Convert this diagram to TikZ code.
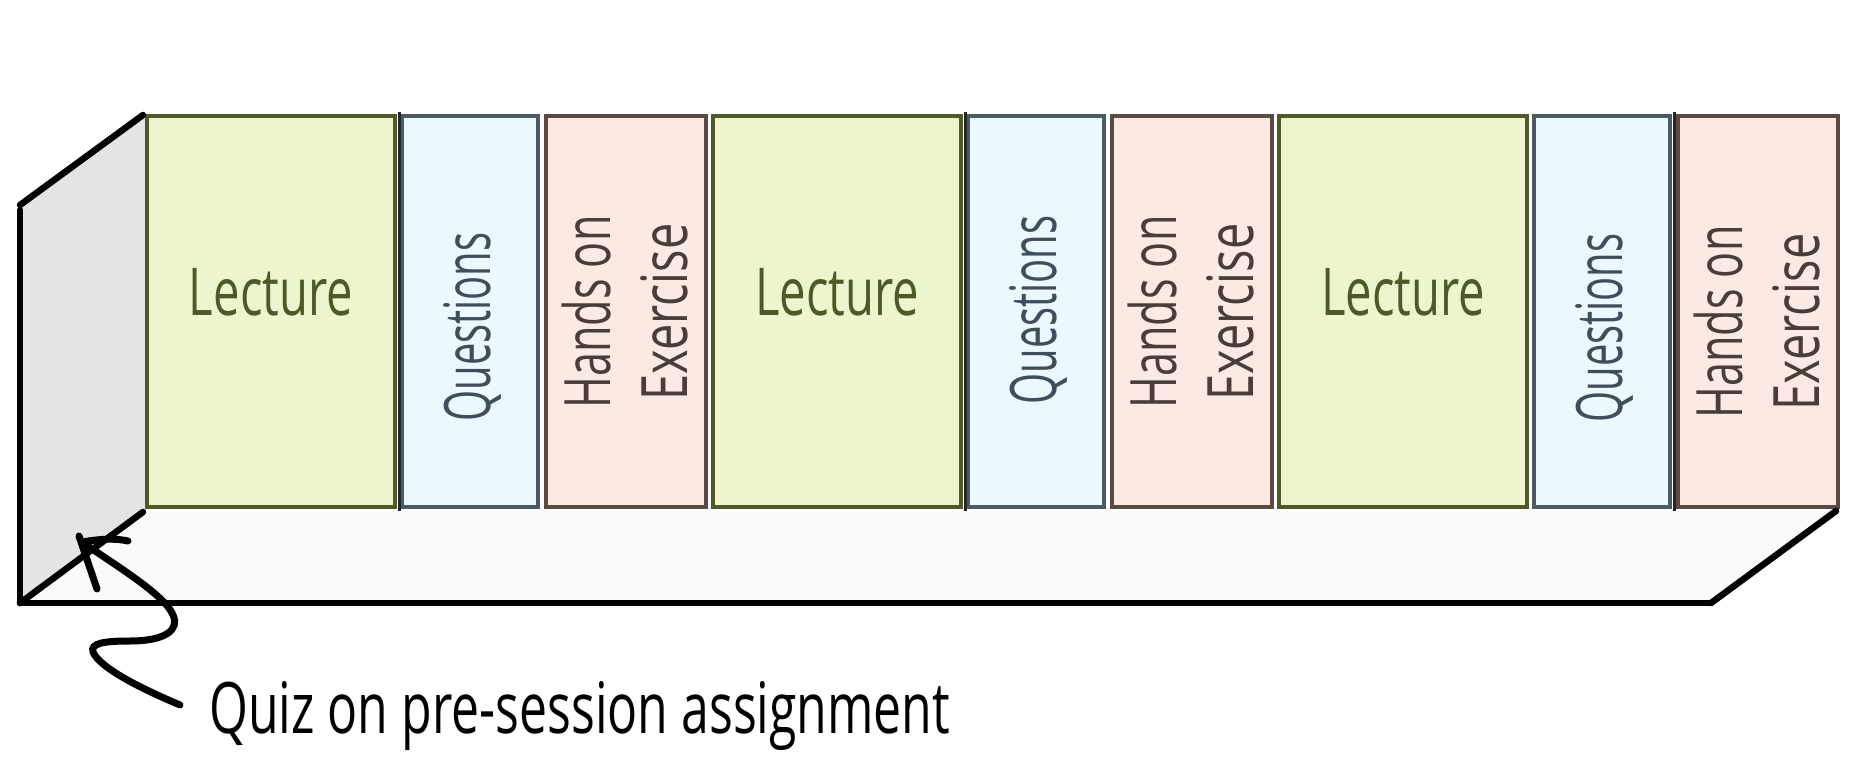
\documentclass[tikz,border=0pt]{standalone}
\usepackage{fontspec}
\setmainfont{Open Sans}
\usepackage{graphicx}
\definecolor{lecfill}{HTML}{EDF5CF}
\definecolor{lecdraw}{HTML}{4F5A2B}
\definecolor{lectext}{HTML}{4B5A26}
\definecolor{qfill}{HTML}{EBF8FE}
\definecolor{qdraw}{HTML}{4B5B66}
\definecolor{qtext}{HTML}{3D4F5C}
\definecolor{hfill}{HTML}{FBEAE4}
\definecolor{hdraw}{HTML}{5A4A43}
\definecolor{htext}{HTML}{4A3C36}
\definecolor{wallfill}{HTML}{E4E4E4}
\definecolor{floorfill}{HTML}{FAFAFA}
\newcommand{\fitw}[2]{\resizebox{#1pt}{\height}{#2}}
\tikzset{
  boxbase/.style={rectangle, line width=4pt, inner sep=0pt, minimum height=391pt},
  lecbox/.style={boxbase, fill=lecfill, draw=lecdraw, minimum width=248pt},
  qbox/.style={boxbase, fill=qfill, draw=qdraw, minimum width=136pt},
  hbox/.style={boxbase, fill=hfill, draw=hdraw, minimum width=160pt},
  boxfont/.style={font=\fontsize{64}{64}\selectfont, inner sep=0pt, anchor=base},
  lectxt/.style={boxfont, text=lectext, font=\fontsize{66}{66}\selectfont},
  qtxt/.style={boxfont, text=qtext, rotate=90},
  htxt/.style={boxfont, text=htext, rotate=90},
  edge/.style={line width=6.5pt, black, line cap=round},
  sep/.style={line width=3pt, black!85},
  arrowline/.style={line width=7pt, black, line cap=round},
}
\begin{document}
\begin{tikzpicture}[x=1pt,y=-1pt]
\useasboundingbox[fill=white] (0,0) rectangle (1869,762);
% wall and floor fills
\fill[wallfill] (20,205) -- (145,114) -- (145,510) -- (20,603) -- cycle;
\fill[floorfill] (20,603) -- (145,511) -- (1839,511) -- (1711,603) -- cycle;
% boxes
\foreach \i/\s in {1/145, 2/711, 3/1277} {
  \node[lecbox] (L\i) at (\s+126, 311.5) {};
  \node[qbox]   (Q\i) at (\s+325, 311.5) {};
  \node[hbox]   (H\i) at (\s+481, 311.5) {};
}
% dark separators
\draw[sep] (L1.north east) ++(2,-2) coordinate (s1a) (L1.south east) ++(2,2) coordinate (s1b);
\draw[sep] (s1a) -- (s1b);
\draw[sep] (L2.north east) ++(2,-2) coordinate (s2a) (L2.south east) ++(2,2) coordinate (s2b);
\draw[sep] (s2a) -- (s2b);
\draw[sep] (Q3.north east) ++(2.5,-2) coordinate (s3a) (Q3.south east) ++(2.5,2) coordinate (s3b);
\draw[sep] (s3a) -- (s3b);
% texts
\foreach \i/\s/\qy/\hy in {1/145/327/312, 2/711/310/312, 3/1277/328/322} {
  \node[lectxt] (LT\i) at (\s+126, 316) {\fitw{164}{Lecture}};
  \node[qtxt] (QT\i) at (\s+345, \qy) {\fitw{189}{Questions}};
  \node[htxt] (HA\i) at (\s+465, \hy) {\fitw{193}{Hands on}};
  \node[htxt] (HB\i) at (\s+542, \hy) {\fitw{177}{Exercise}};
}
% outline edges
\coordinate (wtl) at (20,205);
\coordinate (wtr) at (143,115);
\coordinate (wvt) at (20,210);
\coordinate (fbl) at (20,603);
\coordinate (ftl) at (143,512);
\coordinate (fbr) at (1711,603);
\coordinate (ftr) at (1836,511);
\draw[edge] (wtl) -- (wtr);
\draw[edge] (wvt) -- (fbl);
\draw[edge] (fbl) -- (fbr);
\draw[edge] (fbl) -- (ftl);
\draw[edge] (fbr) -- (ftr);
% label and arrow
\node[inner sep=0pt, anchor=base west, font=\fontsize{71}{71}\selectfont] (quiz) at (209,733) {\fitw{741}{Quiz on pre-session assignment}};
\coordinate (tail) at (180,705);
\coordinate (tip) at (82,542);
\draw[arrowline] (tail) .. controls (140,688) and (100,668) .. (93,652)
  .. controls (90,643) and (105,641) .. (130,641)
  .. controls (165,641) and (180,630) .. (173,615)
  .. controls (165,595) and (115,565) .. (tip);
\coordinate (barbl) at (97,589);
\coordinate (barbr) at (128,541);
\draw[arrowline] (79,536) -- (barbl);
\draw[arrowline] (tip) .. controls (100,539) and (115,538) .. (barbr);
\end{tikzpicture}
\end{document}
